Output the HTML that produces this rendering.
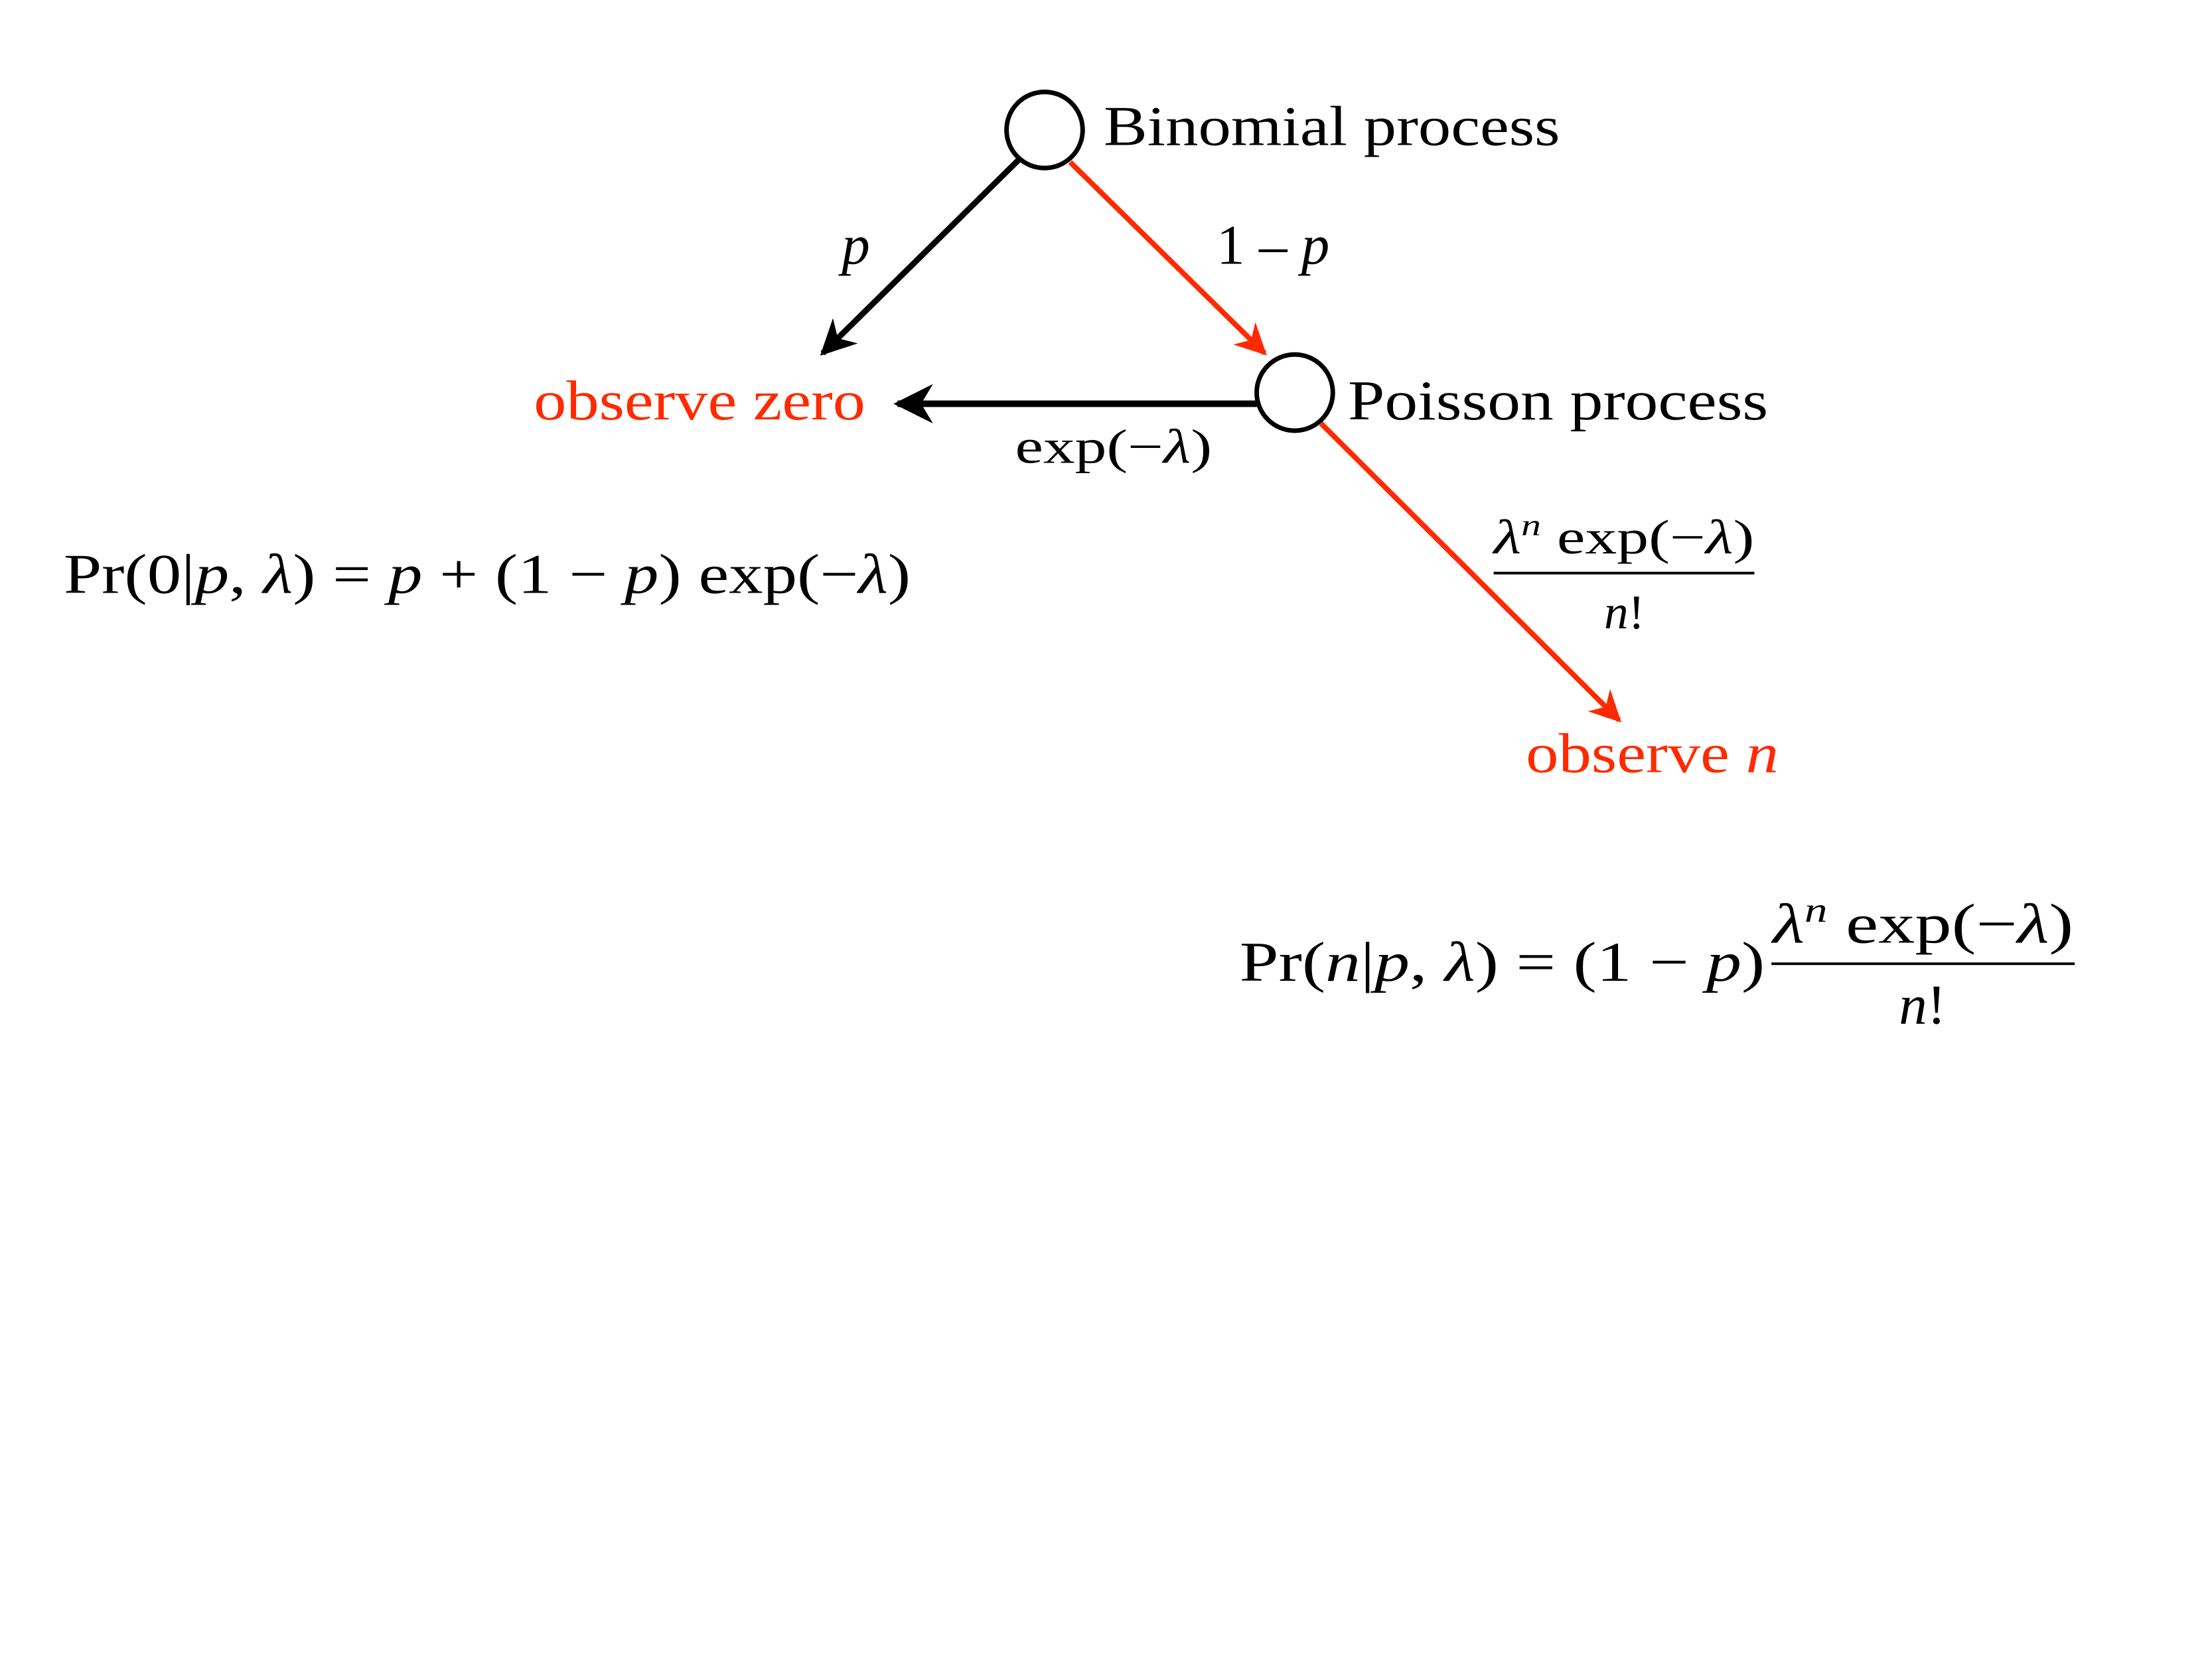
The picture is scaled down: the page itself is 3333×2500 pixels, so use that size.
<!DOCTYPE html>
<html><head><meta charset="utf-8"><style>
html,body{margin:0;padding:0;background:#fff;}
svg{display:block;}
text{font-family:"Liberation Serif",serif;}
</style></head><body>
<svg width="3333" height="2500" viewBox="0 0 3333 2500">
<defs>
<marker id="ab" viewBox="0 0 10 10" refX="9" refY="5" markerWidth="6" markerHeight="6" markerUnits="strokeWidth" orient="auto"><path d="M0,0 L10,5 L0,10 L3,5 Z" fill="#000"/></marker>
<marker id="ar" viewBox="0 0 10 10" refX="9" refY="5" markerWidth="6" markerHeight="6" markerUnits="strokeWidth" orient="auto"><path d="M0,0 L10,5 L0,10 L3,5 Z" fill="#ff2a00"/></marker>
</defs>
<g transform="scale(0.9893)">
<line x1="1552" y1="243" x2="1253" y2="538" stroke="#000" stroke-width="9" marker-end="url(#ab)"/>
<line x1="1630" y1="247" x2="1926" y2="538" stroke="#ff2a00" stroke-width="8" marker-end="url(#ar)"/>
<line x1="1914" y1="615" x2="1367" y2="615" stroke="#000" stroke-width="10" marker-end="url(#ab)"/>
<line x1="2012" y1="645" x2="2466" y2="1097" stroke="#ff2a00" stroke-width="8" marker-end="url(#ar)"/>
<circle cx="1591" cy="198" r="58" fill="#fff" stroke="#000" stroke-width="7"/>
<circle cx="1972" cy="598" r="58" fill="#fff" stroke="#000" stroke-width="7"/>
<text x="1681" y="221" font-size="86" textLength="695" lengthAdjust="spacingAndGlyphs">Binomial process</text>
<text x="2053" y="639" font-size="86" textLength="640" lengthAdjust="spacingAndGlyphs">Poisson process</text>
<text x="813" y="639" font-size="86" fill="#ff2a00" textLength="505" lengthAdjust="spacingAndGlyphs">observe zero</text>
<text x="1282" y="402" font-size="86" font-style="italic">p</text>
<text x="1853" y="402" font-size="86">1 – <tspan font-style="italic">p</tspan></text>
<text x="1546" y="705" font-size="74" textLength="300" lengthAdjust="spacingAndGlyphs">exp(−<tspan font-style="italic">λ</tspan>)</text>
<text x="2275" y="843" font-size="74" textLength="397" lengthAdjust="spacingAndGlyphs"><tspan font-style="italic">λ</tspan><tspan font-style="italic" font-size="46" dy="-28">n</tspan><tspan dy="28"> exp(−</tspan><tspan font-style="italic">λ</tspan>)</text>
<line x1="2275" y1="873" x2="2672" y2="873" stroke="#000" stroke-width="4"/>
<text x="2474" y="957" font-size="74" text-anchor="middle"><tspan font-style="italic">n</tspan>!</text>
<text x="2324" y="1176" font-size="86" fill="#ff2a00" textLength="385" lengthAdjust="spacingAndGlyphs">observe <tspan font-style="italic">n</tspan></text>
<text x="97" y="903" font-size="86" textLength="1290" lengthAdjust="spacingAndGlyphs">Pr(0|<tspan font-style="italic">p</tspan>, <tspan font-style="italic">λ</tspan>) = <tspan font-style="italic">p</tspan> + (1 − <tspan font-style="italic">p</tspan>) exp(−<tspan font-style="italic">λ</tspan>)</text>
<text x="1888" y="1494" font-size="86" textLength="800" lengthAdjust="spacingAndGlyphs">Pr(<tspan font-style="italic">n</tspan>|<tspan font-style="italic">p</tspan>, <tspan font-style="italic">λ</tspan>) = (1 − <tspan font-style="italic">p</tspan>)</text>
<text x="2700" y="1436" font-size="86" textLength="458" lengthAdjust="spacingAndGlyphs"><tspan font-style="italic">λ</tspan><tspan font-style="italic" font-size="54" dy="-32">n</tspan><tspan dy="32"> exp(−</tspan><tspan font-style="italic">λ</tspan>)</text>
<line x1="2698" y1="1468" x2="3160" y2="1468" stroke="#000" stroke-width="4"/>
<text x="2928" y="1559" font-size="86" text-anchor="middle"><tspan font-style="italic">n</tspan>!</text>
</g>
</svg>
</body></html>
